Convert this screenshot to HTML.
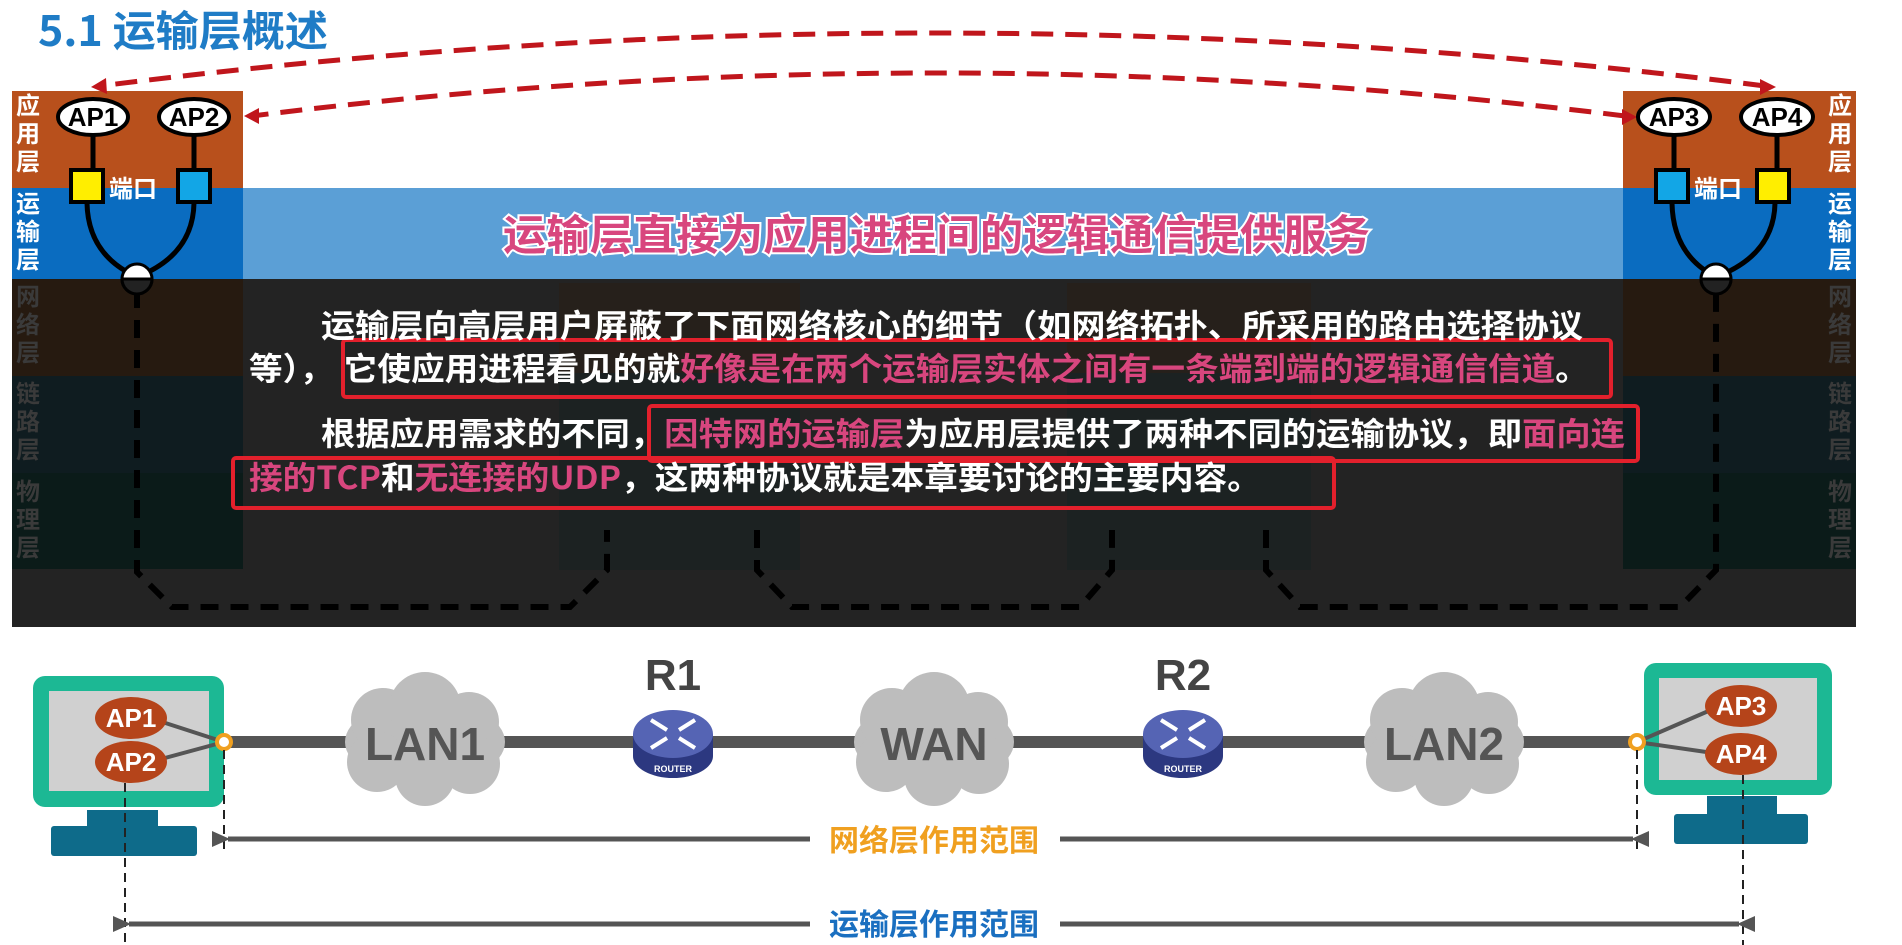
<!DOCTYPE html>
<html><head><meta charset="utf-8"><style>
html,body{margin:0;padding:0;background:#fff;width:1902px;height:945px;overflow:hidden}
svg{display:block}
text{font-family:"Liberation Sans","Noto Sans CJK SC",sans-serif;font-weight:bold}
.cj{font-family:"Noto Sans CJK SC","WenQuanYi Zen Hei",sans-serif;font-weight:bold}
</style></head><body>
<svg width="1902" height="945" viewBox="0 0 1902 945" xmlns="http://www.w3.org/2000/svg">
<defs>
<marker id="ga" markerWidth="18" markerHeight="16" refX="2" refY="8" orient="auto-start-reverse" markerUnits="userSpaceOnUse"><path d="M18,0 L0,8 L18,16 z" fill="#555"/></marker>
</defs>

<!-- title -->
<text x="38" y="46" font-size="42" fill="#1f7cc6" class="cj" textLength="290" lengthAdjust="spacingAndGlyphs">5.1 运输层概述</text>

<rect x="243" y="188" width="1380" height="91" fill="#5b9fd6"/>
<rect x="12" y="91" width="231" height="97" fill="#b8501c"/>
<rect x="12" y="188" width="231" height="91" fill="#0a6cc0"/>
<rect x="1623" y="91" width="233" height="97" fill="#b8501c"/>
<rect x="1623" y="188" width="233" height="91" fill="#0a6cc0"/>

<rect x="12" y="279" width="1844" height="348" fill="#232323"/>
<rect x="12" y="279" width="231" height="97" fill="#261a10"/>
<rect x="12" y="376" width="231" height="97" fill="#0f1c20"/>
<rect x="12" y="473" width="231" height="96" fill="#0b1b19"/>
<rect x="1623" y="279" width="233" height="97" fill="#261a10"/>
<rect x="1623" y="376" width="233" height="97" fill="#0f1c20"/>
<rect x="1623" y="473" width="233" height="96" fill="#0b1b19"/>
<g opacity="0.45">
<rect x="559" y="283" width="241" height="90" fill="#2a1d12"/>
<rect x="559" y="373" width="241" height="197" fill="#152222"/>
<rect x="1067" y="283" width="244" height="90" fill="#2a1d12"/>
<rect x="1067" y="373" width="244" height="197" fill="#152222"/>
</g>

<g font-size="24" fill="#fff" text-anchor="middle">
<text x="28" y="114" class="cj">应</text><text x="28" y="142" class="cj">用</text><text x="28" y="170" class="cj">层</text>
<text x="28" y="212" class="cj">运</text><text x="28" y="240" class="cj">输</text><text x="28" y="268" class="cj">层</text>
<text x="1840" y="114" class="cj">应</text><text x="1840" y="142" class="cj">用</text><text x="1840" y="170" class="cj">层</text>
<text x="1840" y="212" class="cj">运</text><text x="1840" y="240" class="cj">输</text><text x="1840" y="268" class="cj">层</text>
</g>
<g font-size="24" fill="#3a3a3a" text-anchor="middle">
<text x="28" y="305" class="cj">网</text><text x="28" y="333" class="cj">络</text><text x="28" y="361" class="cj">层</text>
<text x="28" y="402" class="cj">链</text><text x="28" y="430" class="cj">路</text><text x="28" y="458" class="cj">层</text>
<text x="28" y="500" class="cj">物</text><text x="28" y="528" class="cj">理</text><text x="28" y="556" class="cj">层</text>
<text x="1840" y="305" class="cj">网</text><text x="1840" y="333" class="cj">络</text><text x="1840" y="361" class="cj">层</text>
<text x="1840" y="402" class="cj">链</text><text x="1840" y="430" class="cj">路</text><text x="1840" y="458" class="cj">层</text>
<text x="1840" y="500" class="cj">物</text><text x="1840" y="528" class="cj">理</text><text x="1840" y="556" class="cj">层</text>
</g>

<!-- red dashed arcs -->
<path d="M1765,86 Q934,-20 100,86" fill="none" stroke="#c0161c" stroke-width="5" stroke-dasharray="22,12"/>
<path d="M1625,116 Q934,30 252,116" fill="none" stroke="#c0161c" stroke-width="5" stroke-dasharray="22,12"/>
<path d="M1622,109 L1637,117 L1622,125 z" fill="#c0161c"/>
<path d="M1760,79 L1776,87 L1760,95 z" fill="#c0161c"/>
<path d="M106,78 L91,87 L107,94 z" fill="#c0161c"/>
<path d="M259,108 L244,116 L259,124 z" fill="#c0161c"/>

<path d="M137,290 V572 L172,607 H570 L607,570 V530 M757,530 V570 L792,607 H1080 L1112,570 V530 M1266,530 V570 L1300,607 H1680 L1716,570 V290" fill="none" stroke="#000" stroke-width="6" stroke-dasharray="18,12"/>

<g stroke="#000" stroke-width="5" fill="none">
<line x1="93" y1="130" x2="93" y2="172"/><line x1="194" y1="130" x2="194" y2="172"/>
<path d="M87,203 Q88,255 137,277"/><path d="M194,203 Q193,255 137,277"/>
<line x1="1674" y1="130" x2="1674" y2="172"/><line x1="1777" y1="130" x2="1777" y2="172"/>
<path d="M1672,203 Q1673,255 1716,277"/><path d="M1775,203 Q1774,255 1716,277"/>
</g>
<rect x="71" y="170" width="32" height="32" fill="#ffee00" stroke="#000" stroke-width="4"/>
<rect x="178" y="170" width="32" height="32" fill="#12a6e6" stroke="#000" stroke-width="4"/>
<rect x="1656" y="170" width="32" height="32" fill="#12a6e6" stroke="#000" stroke-width="4"/>
<rect x="1757" y="170" width="32" height="32" fill="#ffee00" stroke="#000" stroke-width="4"/>
<text x="109" y="197" font-size="24" fill="#fff" class="cj">端口</text>
<text x="1694" y="197" font-size="24" fill="#fff" class="cj">端口</text>
<g stroke="#000" stroke-width="4" fill="#fff">
<ellipse cx="93" cy="117" rx="35" ry="18"/><ellipse cx="194" cy="117" rx="35" ry="18"/>
<ellipse cx="1674" cy="117" rx="36" ry="18"/><ellipse cx="1777" cy="117" rx="36" ry="18"/>
</g>
<g font-size="26" fill="#000" text-anchor="middle">
<text x="93" y="126">AP1</text><text x="194" y="126">AP2</text>
<text x="1674" y="126">AP3</text><text x="1777" y="126">AP4</text>
</g>
<g stroke="#000" stroke-width="3">
<circle cx="137" cy="279" r="15" fill="#fff"/><path d="M122,279 A15,15 0 0 0 152,279 z" fill="#222"/>
<circle cx="1716" cy="279" r="15" fill="#fff"/><path d="M1701,279 A15,15 0 0 0 1731,279 z" fill="#222"/>
</g>

<text x="503" y="250" font-size="42" fill="#d8467e" stroke="#fff" stroke-width="4" paint-order="stroke" textLength="867" lengthAdjust="spacingAndGlyphs" class="cj">运输层直接为应用进程间的逻辑通信提供服务</text>

<g fill="none" stroke="#e3202c" stroke-width="4">
<rect x="343" y="340" width="1268" height="57" rx="3"/>
<rect x="649" y="406" width="989" height="55" rx="3"/>
<rect x="233" y="458" width="1101" height="50" rx="3"/>
</g>

<g font-size="32" fill="#fff">
<text x="321" y="337" textLength="1262" lengthAdjust="spacingAndGlyphs" class="cj">运输层向高层用户屏蔽了下面网络核心的细节（如网络拓扑、所采用的路由选择协议</text>
<text x="249" y="380" textLength="1340" lengthAdjust="spacingAndGlyphs" class="cj">等），<tspan dx="10">它使应用进程看见的就</tspan><tspan fill="#d8467e">好像是在两个运输层实体之间有一条端到端的逻辑通信信道</tspan>。</text>
<text x="321" y="445" textLength="1304" lengthAdjust="spacingAndGlyphs" class="cj">根据应用需求的不同，<tspan fill="#d8467e">因特网的运输层</tspan>为应用层提供了两种不同的运输协议，即<tspan fill="#d8467e">面向连</tspan></text>
<text x="249" y="489" textLength="1012" lengthAdjust="spacingAndGlyphs" class="cj"><tspan fill="#d8467e">接的TCP</tspan>和<tspan fill="#d8467e">无连接的UDP</tspan>，这两种协议就是本章要讨论的主要内容。</text>
</g>

<line x1="224" y1="742" x2="1637" y2="742" stroke="#555" stroke-width="12"/>
<g fill="#bdbdbd">
<g transform="translate(425,742)"><ellipse rx="80" ry="42"/><circle cx="-42" cy="-22" r="32"/><circle cx="0" cy="-34" r="36"/><circle cx="44" cy="-20" r="30"/><circle cx="-48" cy="20" r="30"/><circle cx="45" cy="22" r="30"/><circle cx="0" cy="34" r="30"/></g>
<g transform="translate(934,742)"><ellipse rx="80" ry="42"/><circle cx="-42" cy="-22" r="32"/><circle cx="0" cy="-34" r="36"/><circle cx="44" cy="-20" r="30"/><circle cx="-48" cy="20" r="30"/><circle cx="45" cy="22" r="30"/><circle cx="0" cy="34" r="30"/></g>
<g transform="translate(1444,742)"><ellipse rx="80" ry="42"/><circle cx="-42" cy="-22" r="32"/><circle cx="0" cy="-34" r="36"/><circle cx="44" cy="-20" r="30"/><circle cx="-48" cy="20" r="30"/><circle cx="45" cy="22" r="30"/><circle cx="0" cy="34" r="30"/></g>
</g>
<g font-size="46" fill="#555" text-anchor="middle">
<text x="425" y="760">LAN1</text>
<text x="934" y="760">WAN</text>
<text x="1444" y="760">LAN2</text>
<text x="673" y="690" font-size="44" fill="#444">R1</text>
<text x="1183" y="690" font-size="44" fill="#444">R2</text>
</g>
<g transform="translate(673,742)">
<path d="M-40,-8 V14 A40,22 0 0 0 40,14 V-8 z" fill="#2c3880"/>
<ellipse cx="0" cy="-8" rx="40" ry="24" fill="#5564b4"/>
<g stroke="#fff" stroke-width="4" fill="none"><path d="M-22,-22 L-6,-12 M6,-12 L22,-22 M-22,6 L-6,-4 M6,-4 L22,6"/></g>
<text x="0" y="30" font-size="9" fill="#fff" text-anchor="middle">ROUTER</text>
</g>
<g transform="translate(1183,742)">
<path d="M-40,-8 V14 A40,22 0 0 0 40,14 V-8 z" fill="#2c3880"/>
<ellipse cx="0" cy="-8" rx="40" ry="24" fill="#5564b4"/>
<g stroke="#fff" stroke-width="4" fill="none"><path d="M-22,-22 L-6,-12 M6,-12 L22,-22 M-22,6 L-6,-4 M6,-4 L22,6"/></g>
<text x="0" y="30" font-size="9" fill="#fff" text-anchor="middle">ROUTER</text>
</g>

<rect x="33" y="676" width="191" height="131" rx="12" fill="#1cb894"/>
<rect x="49" y="691" width="160" height="100" fill="#d0d0d0"/>
<rect x="87" y="810" width="71" height="18" fill="#0e6b8a"/>
<rect x="51" y="826" width="146" height="30" rx="3" fill="#0e6b8a"/>
<g stroke="#555" stroke-width="4"><line x1="150" y1="718" x2="224" y2="742"/><line x1="150" y1="762" x2="224" y2="742"/></g>
<ellipse cx="131" cy="718" rx="36" ry="21" fill="#b5441a"/>
<ellipse cx="131" cy="762" rx="36" ry="21" fill="#b5441a"/>
<circle cx="224" cy="742" r="7" fill="#fff" stroke="#f0a020" stroke-width="4"/>
<rect x="1644" y="663" width="188" height="132" rx="12" fill="#1cb894"/>
<rect x="1659" y="678" width="158" height="102" fill="#d0d0d0"/>
<rect x="1707" y="796" width="70" height="20" fill="#0e6b8a"/>
<rect x="1674" y="814" width="134" height="30" rx="3" fill="#0e6b8a"/>
<g stroke="#555" stroke-width="4"><line x1="1720" y1="706" x2="1637" y2="742"/><line x1="1720" y1="754" x2="1637" y2="742"/></g>
<ellipse cx="1741" cy="706" rx="36" ry="21" fill="#b5441a"/>
<ellipse cx="1741" cy="754" rx="36" ry="21" fill="#b5441a"/>
<circle cx="1637" cy="742" r="7" fill="#fff" stroke="#f0a020" stroke-width="4"/>
<g font-size="26" fill="#fff" text-anchor="middle">
<text x="131" y="727">AP1</text><text x="131" y="771">AP2</text>
<text x="1741" y="715">AP3</text><text x="1741" y="763">AP4</text>
</g>

<g stroke="#222" stroke-width="2" stroke-dasharray="9,6">
<line x1="224" y1="750" x2="224" y2="850"/>
<line x1="1637" y1="750" x2="1637" y2="850"/>
<line x1="125" y1="783" x2="125" y2="945"/>
<line x1="1743" y1="775" x2="1743" y2="945"/>
</g>
<line x1="228" y1="839" x2="1633" y2="839" stroke="#555" stroke-width="5" marker-start="url(#ga)" marker-end="url(#ga)"/>
<line x1="129" y1="924" x2="1739" y2="924" stroke="#555" stroke-width="5" marker-start="url(#ga)" marker-end="url(#ga)"/>
<rect x="810" y="820" width="250" height="40" fill="#fff"/>
<rect x="810" y="904" width="250" height="40" fill="#fff"/>
<text x="934" y="851" font-size="30" fill="#f0a020" text-anchor="middle" class="cj">网络层作用范围</text>
<text x="934" y="935" font-size="30" fill="#1a6fc0" text-anchor="middle" class="cj">运输层作用范围</text>
</svg>
</body></html>
